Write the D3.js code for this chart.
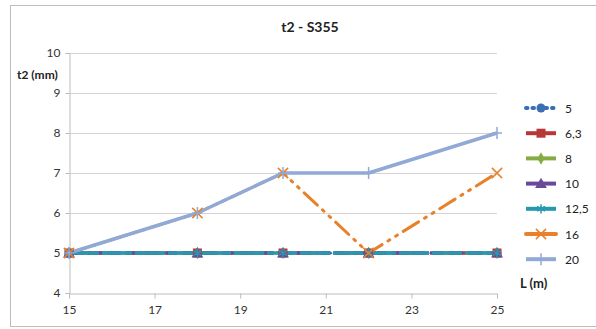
<!DOCTYPE html>
<html>
<head>
<meta charset="utf-8">
<script src="https://cdn.jsdelivr.net/npm/d3@7"></script>
<style>
  body { margin: 0; background: #fff; }
  svg { display: block; font-family: Lato, "Open Sans", sans-serif; }
</style>
</head>
<body>
<svg id="chart" width="596" height="329"></svg>
<script>
// Plate thickness t2 against span L, one series per load case
const lengths = [15, 18, 20, 22, 25];
const seriesNames = ["5", "6,3", "8", "10", "12,5", "16", "20"];
const s5   = [5, 5, 5, 5, 5];
const s6_3 = [5, 5, 5, 5, 5];
const s8   = [5, 5, 5, 5, 5];
const s10  = [5, 5, 5, 5, 5];
const s12_5 = [5, 5, 5, 5, 5];
const s16  = [5, 6, 7, 5, 7];
const s20  = [5, 6, 7, 7, 8];
const xTicks = [15, 17, 19, 21, 23, 25];
const yTicks = [4, 5, 6, 7, 8, 9, 10];

const styles = [
  { color: "#3a6fb5", dash: "1.5,5", width: 3, cap: "round", marker: "circle" },
  { color: "#b8383a", dash: "9,5", width: 3.5, cap: "butt", marker: "square" },
  { color: "#86aa44", dash: "7,4", width: 3.5, cap: "butt", marker: "diamond" },
  { color: "#6a4a98", dash: "14,5", width: 3.5, cap: "butt", marker: "triangle" },
  { color: "#2798b0", dash: "30,3", width: 3.5, cap: "butt", marker: "star" },
  { color: "#e8812a", dash: "18,7,2,7,2,7", width: 3, cap: "round", marker: "x" },
  { color: "#90a9d6", dash: null, width: 3.5, cap: "butt", marker: "plus" }
];
const values = [s5, s6_3, s8, s10, s12_5, s16, s20];

const svg = d3.select("#chart");
const x = d3.scaleLinear().domain([15, 25]).range([69, 497]);
const y = d3.scaleLinear().domain([4, 10]).range([293, 53]);

// outer frame
svg.append("rect").attr("x", 10.5).attr("y", 5.5).attr("width", 600).attr("height", 321)
  .attr("fill", "#fff").attr("stroke", "#bdbdbd").attr("stroke-width", 1);

// gridlines
svg.append("g").selectAll("line").data(yTicks.filter(d => d > 4)).join("line")
  .attr("x1", x(15)).attr("x2", x(25))
  .attr("y1", d => Math.round(y(d)) + 0.5).attr("y2", d => Math.round(y(d)) + 0.5)
  .attr("stroke", "#d4d4d4").attr("stroke-width", 1);

// y axis
const yAxis = svg.append("g").attr("transform", `translate(${x(15) + 0.5},0)`)
  .call(d3.axisLeft(y).tickValues(yTicks).tickSize(4).tickFormat(d3.format("d")));
yAxis.select(".domain").attr("stroke", "#bdbdbd");
yAxis.selectAll(".tick line").attr("stroke", "#bdbdbd");
yAxis.selectAll("text").attr("font-size", 12).attr("fill", "#333").attr("x", -9)
  .attr("font-family", "Lato, sans-serif");

// x axis
const xAxis = svg.append("g").attr("transform", `translate(0,${y(4) + 0.5})`)
  .call(d3.axisBottom(x).tickValues(xTicks).tickSize(5).tickFormat(d3.format("d")));
xAxis.select(".domain").attr("stroke", "#bdbdbd");
xAxis.selectAll(".tick line").attr("stroke", "#bdbdbd");
xAxis.selectAll("text").attr("font-size", 12).attr("fill", "#333").attr("y", 12)
  .attr("font-family", "Lato, sans-serif");

// titles
svg.append("text").attr("x", 310).attr("y", 32).attr("text-anchor", "middle")
  .attr("font-size", 14).attr("font-weight", "bold").attr("fill", "#222").text("t2 - S355");
svg.append("text").attr("x", 17).attr("y", 79)
  .attr("font-size", 12).attr("font-weight", "bold").attr("fill", "#222").text("t2 (mm)");
svg.append("text").attr("x", 520).attr("y", 288)
  .attr("font-size", 13).attr("font-weight", "bold").attr("fill", "#222").text("L (m)");

function drawMarker(g, type, color, cx, cy) {
  if (type === "circle") {
    g.append("circle").attr("cx", cx).attr("cy", cy).attr("r", 4.5).attr("fill", color);
  } else if (type === "square") {
    g.append("rect").attr("x", cx - 4.5).attr("y", cy - 4.5)
      .attr("width", 9).attr("height", 9).attr("fill", color);
  } else if (type === "diamond") {
    g.append("path").attr("d", d3.symbol(d3.symbolDiamond, 45)())
      .attr("transform", `translate(${cx},${cy})`).attr("fill", color);
  } else if (type === "triangle") {
    g.append("path").attr("d", d3.symbol(d3.symbolTriangle, 60)())
      .attr("transform", `translate(${cx},${cy + 1})`).attr("fill", color);
  } else if (type === "star") {
    g.append("path").attr("d", d3.symbol(d3.symbolAsterisk, 60)())
      .attr("transform", `translate(${cx},${cy})`).attr("fill", "none")
      .attr("stroke", color).attr("stroke-width", 1.5);
  } else if (type === "x") {
    g.append("path").attr("d", d3.symbol(d3.symbolTimes, 70)())
      .attr("transform", `translate(${cx},${cy})`).attr("fill", "none")
      .attr("stroke", color).attr("stroke-width", 1.5);
  } else if (type === "plus") {
    g.append("path").attr("d", "M-5,0H5M0,-6V6")
      .attr("transform", `translate(${cx},${cy})`).attr("fill", "none")
      .attr("stroke", color).attr("stroke-width", 1.5);
  }
}

const line = d3.line().x((d, i) => x(lengths[i])).y(d => y(d));

// series lines
const linesG = svg.append("g");
values.forEach((vals, si) => {
  const st = styles[si];
  linesG.append("path").datum(vals).attr("d", line)
    .attr("fill", "none").attr("stroke", st.color).attr("stroke-width", st.width)
    .attr("stroke-linecap", st.cap).attr("stroke-linejoin", "round")
    .attr("stroke-dasharray", st.dash);
});

// series markers
const markG = svg.append("g");
values.forEach((vals, si) => {
  const st = styles[si];
  vals.forEach((v, i) => drawMarker(markG, st.marker, st.color, x(lengths[i]), y(v)));
});

// legend
const legend = svg.append("g");
seriesNames.forEach((name, i) => {
  const st = styles[i];
  const ly = 108 + i * 25.2;
  const g = legend.append("g");
  g.append("line").attr("x1", 526).attr("x2", 556).attr("y1", ly).attr("y2", ly)
    .attr("stroke", st.color).attr("stroke-width", 4)
    .attr("stroke-linecap", st.cap)
    .attr("stroke-dasharray", i === 0 ? "1.5,5" : null);
  drawMarker(g, st.marker, st.color, 541, ly);
  g.append("text").attr("x", 565).attr("y", ly + 4.5).attr("font-size", 12)
    .attr("fill", "#222").text(name);
});
</script>
</body>
</html>
